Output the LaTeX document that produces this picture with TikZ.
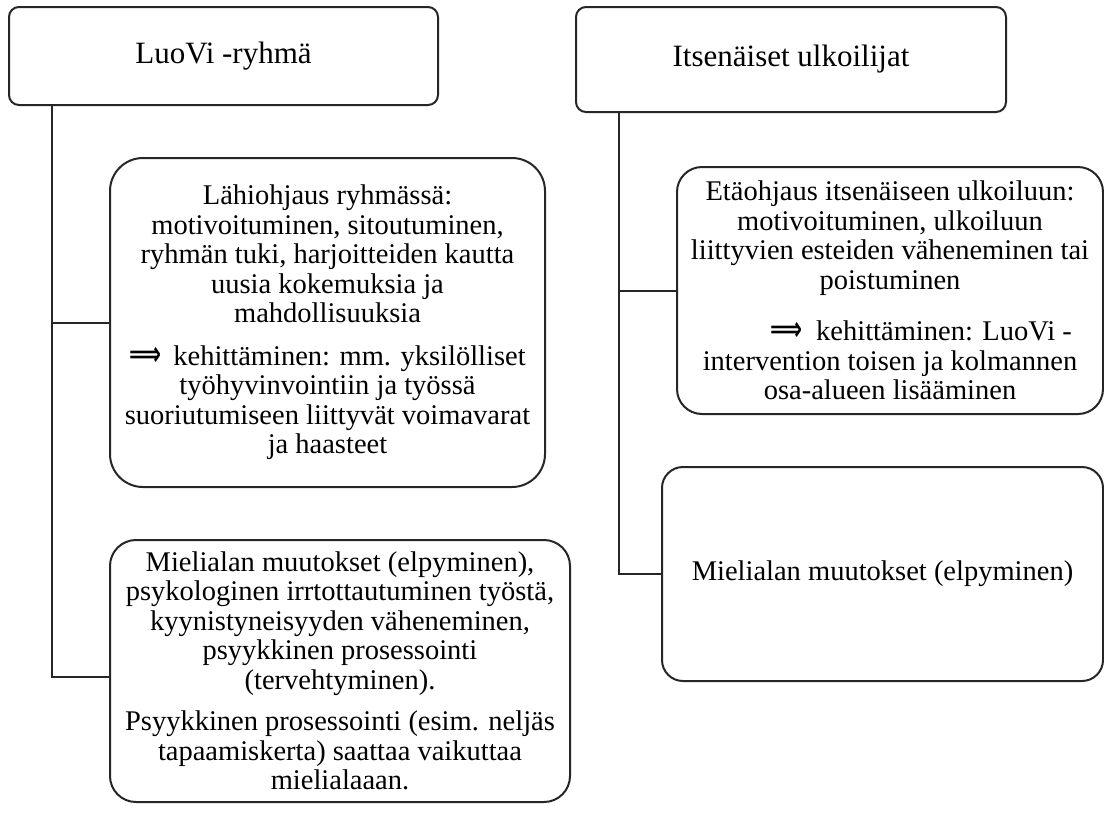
\documentclass[tikz,border=0pt]{standalone}
\usepackage{fontspec}
\setmainfont{Liberation Serif}
\newfontfamily\arrowfont{DejaVu Sans}
\usepackage{graphicx}
\definecolor{ln}{HTML}{262626}
\newcommand{\dblarrow}{\scalebox{1}[1.5]{\resizebox{32pt}{!}{\arrowfont\bfseries ⟹}}}
\begin{document}
\begin{tikzpicture}[x=1pt,y=-1pt,
  box/.style={draw=ln, line width=2pt, inner sep=0pt, outer sep=0pt, align=center,
    text=black, font=\fontsize{28.5}{29.5}\selectfont},
  titlebox/.style={box, font=\fontsize{31}{34}\selectfont},
  conn/.style={draw=ln, line width=2pt}]
\useasboundingbox (0,0) rectangle (1104,812);

\node[titlebox, minimum width=429pt, minimum height=98pt, rounded corners=10pt] (t1) at (223.5,56) {LuoVi -ryhmä};
\node[titlebox, minimum width=430pt, minimum height=105pt, rounded corners=10pt] (t2) at (791,59.5) {Itsenäiset ulkoilijat};

\node[box, minimum width=435pt, minimum height=329pt, rounded corners=33pt] (A) at (327.5,322.5) {%
Lähiohjaus ryhmässä:\\
motivoituminen, sitoutuminen,\\
ryhmän tuki, harjoitteiden kautta\\
uusia kokemuksia ja\\
mahdollisuuksia\\[13pt]
\dblarrow\hspace{12pt}kehittäminen: mm. yksilölliset\\
työhyvinvointiin ja työssä\\
suoriutumiseen liittyvät voimavarat\\
ja haasteet};

\node[box, minimum width=460pt, minimum height=262pt, rounded corners=26pt] (B) at (340,671) {%
Mielialan muutokset (elpyminen),\\
psykologinen irrtottautuminen työstä,\\
kyynistyneisyyden väheneminen,\\
psyykkinen prosessointi\\
(tervehtyminen).\\[12pt]
Psyykkinen prosessointi (esim. neljäs\\
tapaamiskerta) saattaa vaikuttaa\\
mielialaaan.};

\node[box, minimum width=426pt, minimum height=247pt, rounded corners=25pt] (C) at (890,290.5) {%
Etäohjaus itsenäiseen ulkoiluun:\\
motivoituminen, ulkoiluun\\
liittyvien esteiden väheneminen tai\\
poistuminen\\[22pt]
\hspace*{62pt}\dblarrow\hspace{14pt}kehittäminen: LuoVi -\\
intervention toisen ja kolmannen\\
osa-alueen lisääminen};

\node[box, minimum width=441pt, minimum height=214pt, rounded corners=21pt] (D) at (882.5,574) {Mielialan muutokset (elpyminen)};

\coordinate (v1) at ([xshift=43pt]t1.south west);
\coordinate (v2) at ([xshift=43pt]t2.south west);
\draw[conn] (v1) |- (A.west);
\draw[conn] (v1) |- ([yshift=-6pt]B.west);
\draw[conn] (v2) |- (C.west);
\draw[conn] (v2) |- (D.west);
\end{tikzpicture}
\end{document}
